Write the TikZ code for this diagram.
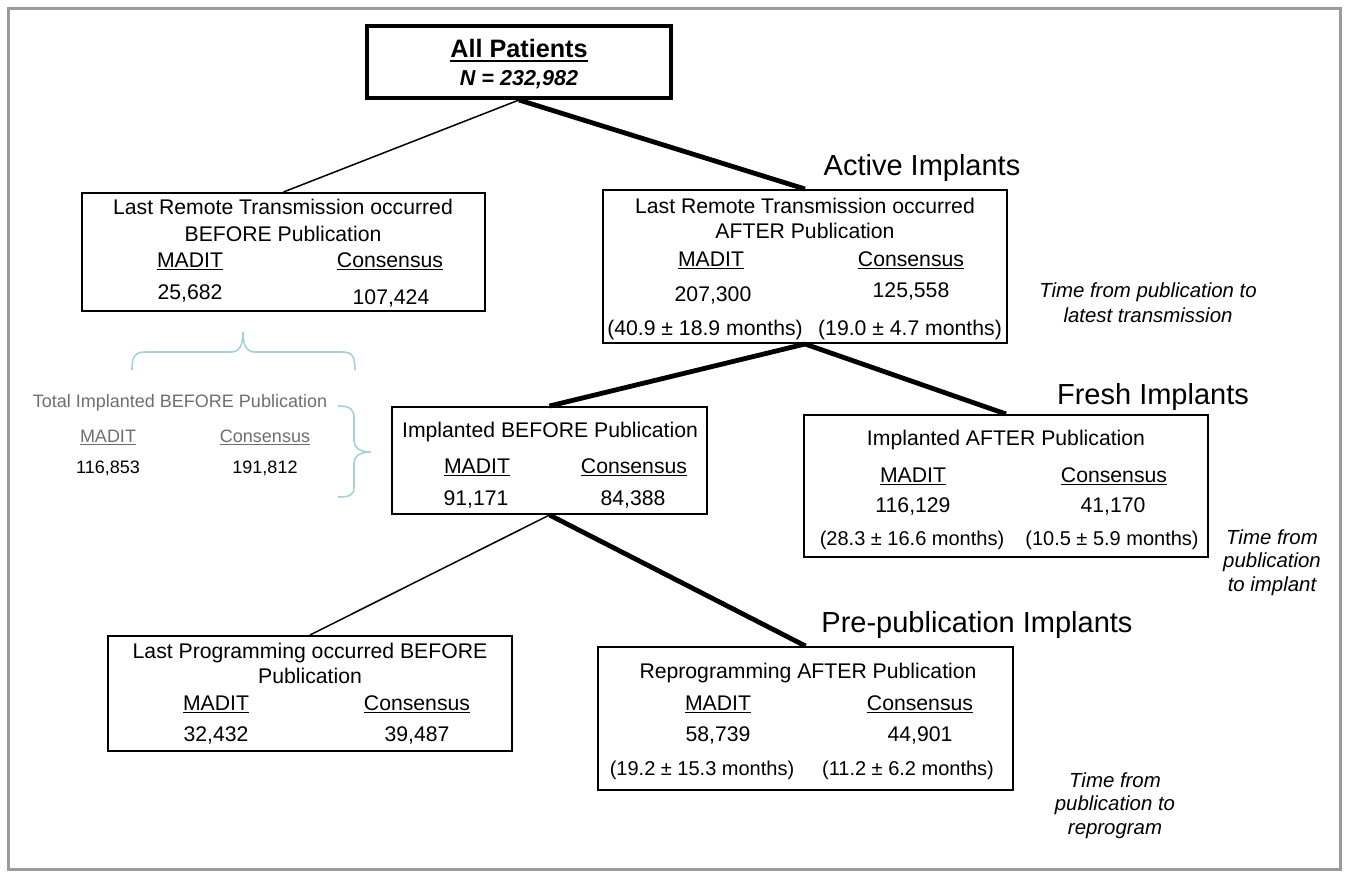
\documentclass[tikz,border=0pt]{standalone}
\usepackage{fontspec}
\setmainfont{Liberation Sans}
\usetikzlibrary{positioning,fit,calc}
\definecolor{framec}{HTML}{9B9B9B}
\definecolor{bracec}{HTML}{A3D3D8}
\definecolor{greyt}{HTML}{6E6E6E}
\newcommand{\hd}[1]{\setbox0\hbox{#1}\rlap{\rule[-1.6pt]{\wd0}{0.85pt}}\box0}
\newcommand{\hdb}[1]{\setbox0\hbox{#1}\rlap{\rule[-2.4pt]{\wd0}{1.1pt}}\box0}

\begin{document}
\begin{tikzpicture}[x=0.5pt,y=-0.5pt,
  bx/.style={draw,line width=1pt,inner sep=0pt},
  t/.style={inner sep=0pt,anchor=base,font=\fontsize{10.6}{12}\selectfont},
  ts/.style={inner sep=0pt,anchor=base,font=\fontsize{10}{12}\selectfont},
  big/.style={inner sep=0pt,anchor=base,font=\fontsize{14.5}{16}\selectfont},
  tm/.style={inner sep=0pt,anchor=north,align=center,
             font=\fontsize{10.2}{11.8}\selectfont\itshape},
  gr/.style={inner sep=0pt,anchor=base,font=\fontsize{9}{11}\selectfont,text=greyt},
  ln/.style={line width=0.75pt},
  thk/.style={line width=2.4pt},
  br/.style={draw=bracec,line width=0.8pt},
]
\useasboundingbox (0,0) rectangle (1346,873);
\draw[framec,line width=1.5pt] (8,8) rectangle (1340,869);

% top
\node[bx,line width=2pt,fit={(367,26) (671,98)}] (ap) {};
\node[inner sep=0pt,anchor=base,font=\fontsize{12.6}{14}\selectfont\bfseries] (apT) at (519,57) {\hdb{All Patients}};
\node[inner sep=0pt,anchor=base,font=\fontsize{10.8}{12}\selectfont\bfseries\itshape] (apN) at (519,85) {N = 232,982};

% remote transmission before
\node[bx,fit={(82,193) (485,311)}] (lrtb) {};
\node[t] (lrtb1) at (283,214) {Last Remote Transmission occurred};
\node[t] (lrtb2) at (283,241) {BEFORE Publication};
\node[t] (lrtbM) at (190,267) {\hd{MADIT}};
\node[t] (lrtbC) at (390,267) {\hd{Consensus}};
\node[t] (lrtbMn) at (190,299) {25,682};
\node[t] (lrtbCn) at (391,304) {107,424};

% remote transmission after
\node[bx,fit={(603,190) (1007,343)}] (lrta) {};
\node[t] (lrta1) at (805,213) {Last Remote Transmission occurred};
\node[t] (lrta2) at (805,238) {AFTER Publication};
\node[t] (lrtaM) at (711,266) {\hd{MADIT}};
\node[t] (lrtaC) at (911,266) {\hd{Consensus}};
\node[t] (lrtaMn) at (713,301) {207,300};
\node[t] (lrtaCn) at (911,297) {125,558};
\node[t] (lrtaMm) at (705,335) {(40.9 ± 18.9 months)};
\node[t] (lrtaCm) at (910,335) {(19.0 ± 4.7 months)};
\node[big] (active) at (922,175) {Active Implants};
\node[tm] (tmLatest) at (1148,282) {Time from publication to\\[0.7pt] latest transmission};

% total implanted before
\draw[br] (132,370) .. controls (132,356) and (135,352) .. (146,352) -- (231,352)
  .. controls (239,352) and (243,346) .. (243,332) .. controls (243,346) and (247,352) .. (255,352)
  -- (342,352) .. controls (352,352) and (355,356) .. (355,370);
\node[gr] (totT) at (180,407) {Total Implanted BEFORE Publication};
\node[gr] (totM) at (108,442) {\hd{MADIT}};
\node[gr] (totC) at (265,442) {\hd{Consensus}};
\node[gr,text=black] (totMn) at (108,473) {116,853};
\node[gr,text=black] (totCn) at (265,473) {191,812};
\draw[br] (338,406) .. controls (350,406) and (354,409) .. (354,418) -- (354,441)
  .. controls (354,448) and (360,452) .. (371,452) .. controls (360,452) and (354,456) .. (354,463)
  -- (354,487) .. controls (354,495) and (350,497) .. (338,497);

% implanted before
\node[bx,fit={(392,407) (707,514)}] (ib) {};
\node[t] (ib1) at (550,437) {Implanted BEFORE Publication};
\node[t] (ibM) at (477,473) {\hd{MADIT}};
\node[t] (ibC) at (634,473) {\hd{Consensus}};
\node[t] (ibMn) at (476,505) {91,171};
\node[t] (ibCn) at (633,505) {84,388};

% implanted after
\node[bx,fit={(804,415) (1208,557)}] (iaa) {};
\node[t] (iaa1) at (1006,445) {Implanted AFTER Publication};
\node[t] (iaaM) at (913,482) {\hd{MADIT}};
\node[t] (iaaC) at (1114,482) {\hd{Consensus}};
\node[t] (iaaMn) at (913,512) {116,129};
\node[t] (iaaCn) at (1113,512) {41,170};
\node[ts] (iaaMm) at (912,545) {(28.3 ± 16.6 months)};
\node[ts] (iaaCm) at (1112,545) {(10.5 ± 5.9 months)};
\node[big] (fresh) at (1153,404) {Fresh Implants};
\node[tm] (tmImpl) at (1272,529) {Time from\\ publication\\ to implant};

% programming before
\node[bx,fit={(108,636) (512,751)}] (lpb) {};
\node[t] (lpb1) at (310,658) {Last Programming occurred BEFORE};
\node[t] (lpb2) at (310,683) {Publication};
\node[t] (lpbM) at (216,710) {\hd{MADIT}};
\node[t] (lpbC) at (417,710) {\hd{Consensus}};
\node[t] (lpbMn) at (216,741) {32,432};
\node[t] (lpbCn) at (417,741) {39,487};

% reprogramming after
\node[bx,fit={(598,647) (1013,790)}] (rap) {};
\node[t] (rap1) at (808,678) {Reprogramming AFTER Publication};
\node[t] (rapM) at (718,710) {\hd{MADIT}};
\node[t] (rapC) at (920,710) {\hd{Consensus}};
\node[t] (rapMn) at (718,741) {58,739};
\node[t] (rapCn) at (920,741) {44,901};
\node[ts] (rapMm) at (702,775) {(19.2 ± 15.3 months)};
\node[ts] (rapCm) at (908,775) {(11.2 ± 6.2 months)};
\node[big] (prepub) at (977,632) {Pre-publication Implants};
\node[tm] (tmRepr) at (1115,772) {Time from\\ publication to\\ reprogram};

% tree lines
\draw[ln] (ap.south) -- (lrtb.north);
\draw[thk] (ap.south) -- (lrta.north);
\draw[thk] (lrta.south) -- (ib.north);
\draw[thk] (lrta.south) -- (iaa.north);
\draw[ln] (ib.south) -- (lpb.north);
\draw[thk] (ib.south) -- (rap.north);
\end{tikzpicture}
\end{document}
